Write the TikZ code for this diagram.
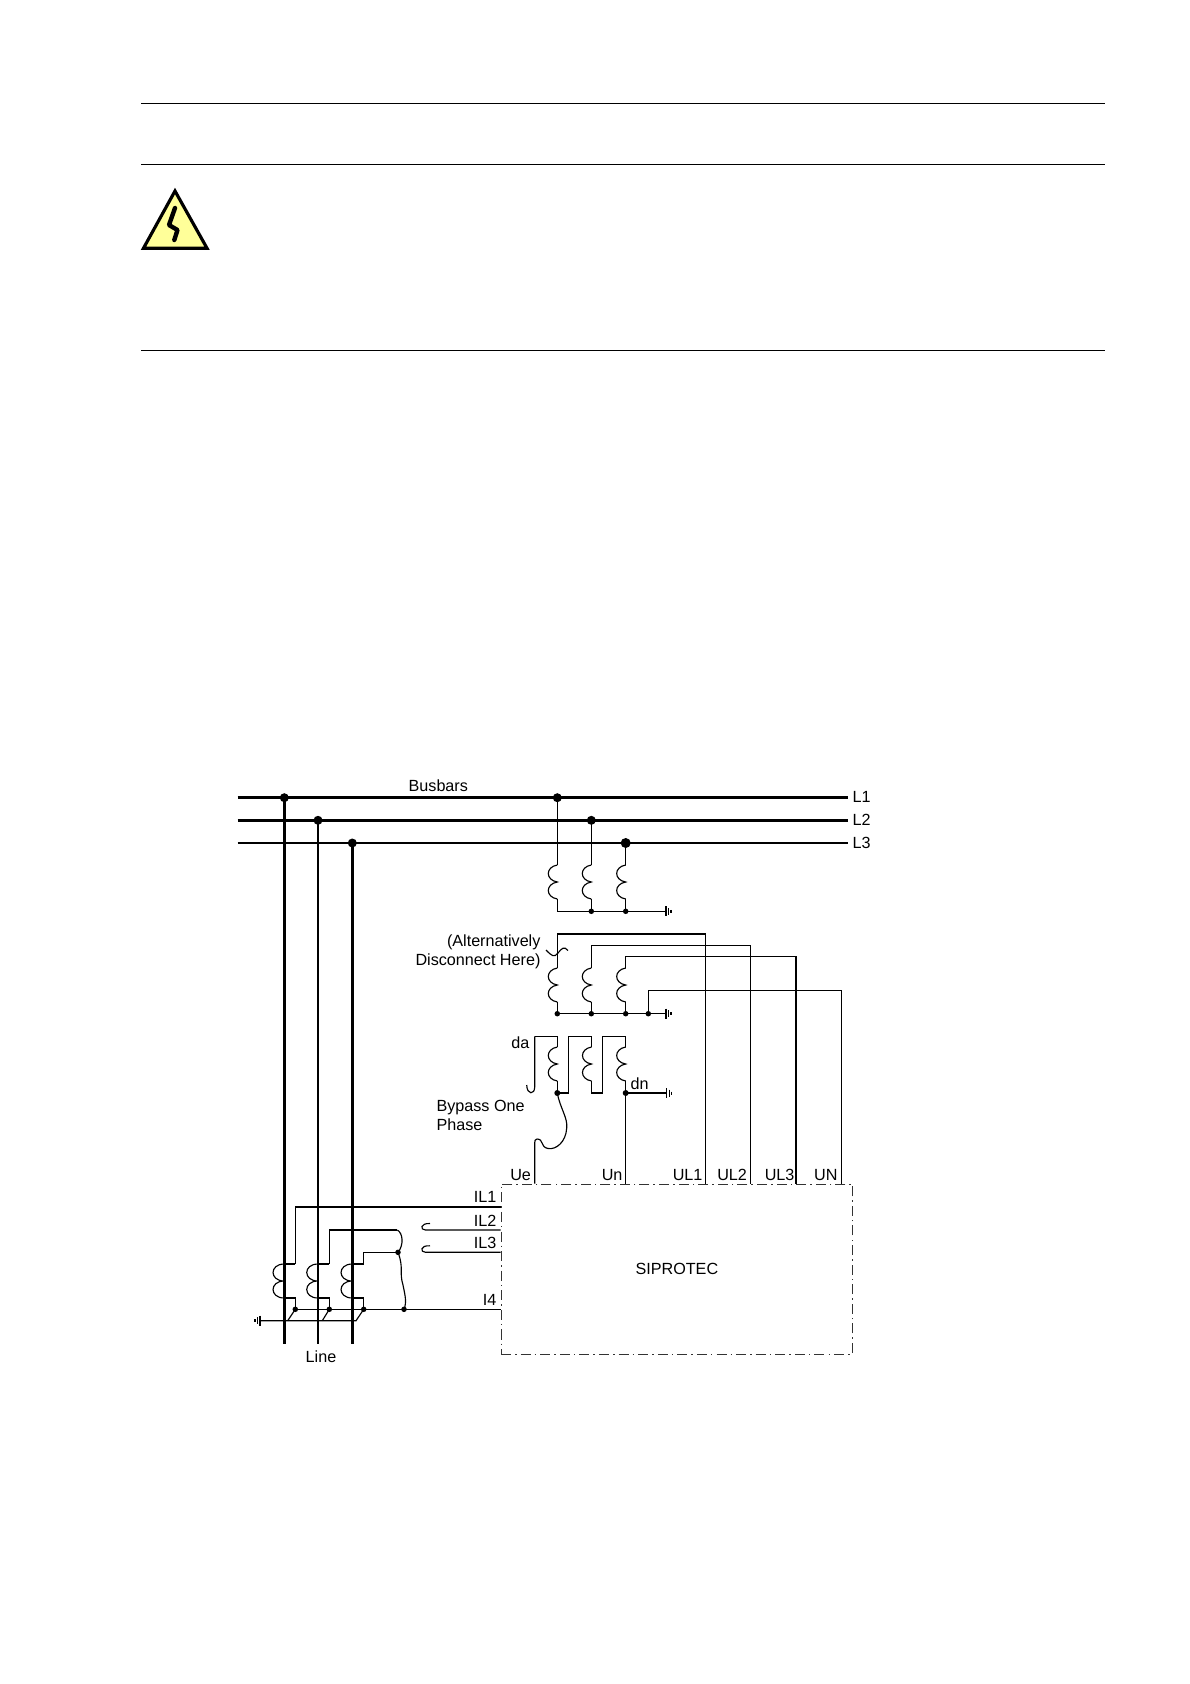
\documentclass[tikz,border=0pt]{standalone}
\usepackage{fontspec}
\setsansfont{Liberation Sans}
\usetikzlibrary{calc, positioning}

\definecolor{warnyellow}{HTML}{FFFF99}

\begin{document}
\begin{tikzpicture}[
    x=0.02cm, y=-0.02cm,
    font=\sffamily\fontsize{9.2}{10.8}\selectfont,
    line width=0.65pt
]
    % Styles for wires and dots
    \tikzstyle{bar} = [line width=1.6pt]
    \tikzstyle{rule} = [line width=0.7pt]
    \tikzstyle{bigdot} = [circle, fill=black, inner sep=0pt, minimum size=0.18cm]
    \tikzstyle{smalldot} = [circle, fill=black, inner sep=0pt, minimum size=0.11cm]
    \tikzstyle{label} = [inner sep=0pt]

    % Coil: two bows to the left of the wire, and the earth mark
    \tikzset{
        coil/.pic={
            \draw (0,0) .. controls (-12,2) and (-12,15) .. (0,17)
                        .. controls (-12,19) and (-12,32) .. (0,34);
        },
        bigcoil/.pic={
            \draw (0,0) .. controls (-15,0) and (-15,17) .. (0,17)
                        .. controls (-15,17) and (-15,34) .. (0,34);
        },
        earth/.pic={
            \draw (0,-5) -- (0,5);
            \draw (2.5,-3.5) -- (2.5,3.5);
            \draw (5,-1.5) -- (5,1.5);
        }
    }

    \useasboundingbox (0,0) rectangle (1190,1684);

    % Page rules and warning sign
    \coordinate (RuleA) at (141,103.3);
    \coordinate (RuleB) at (141,164.3);
    \coordinate (RuleC) at (141,350.3);
    \foreach \r in {RuleA,RuleB,RuleC}
        \draw [rule] (\r) -- ++(964,0);
    \draw [line width=1.8pt, fill=warnyellow, line join=miter]
        (175,191) -- (207,248.2) -- (143.5,248.2) -- cycle;
    \draw [line width=2.5pt, line join=round, line cap=round]
        (175,208) -- (169,225) -- (177.5,230) -- (174.3,240);

    % Busbars
    \coordinate (L1w) at (237.5,797.7);
    \coordinate (L2w) at (237.5,820.3);
    \coordinate (L3w) at (237.5,843);
    \node [label, anchor=west] (L1) at (852,797) {L1};
    \node [label, anchor=west] (L2) at (852,820) {L2};
    \node [label, anchor=west] (L3) at (852,842.5) {L3};
    \draw [bar] (L1w) -- ++(610.5,0);
    \draw [bar] (L2w) -- ++(610.5,0);
    \draw [bar] (L3w) -- ++(610.5,0);
    \node [label] (Busbars) at (438.3,785.7) {Busbars};

    % Line conductors
    \node [bigdot] (LineA) at (284.3,797.7) {};
    \node [bigdot] (LineB) at (318,820.3) {};
    \node [bigdot] (LineC) at (352.3,843) {};
    \draw [bar] (LineA.center) -- (284.3,1344);
    \draw [bar] (LineB.center) -- (318,1344);
    \draw [bar] (LineC.center) -- (352.3,1344);
    \node [label] (Line) at (321,1356.7) {Line};

    % Relay box
    \node [draw, black!80, text=black, line width=0.55pt, minimum width=7.034cm, minimum height=3.4cm, inner sep=0pt,
           dash pattern=on 5.7pt off 2.3pt on 0.85pt off 2.3pt] (Relay) at (676.85,1269) {SIPROTEC};

    % 1. Primary windings
    \node [bigdot] (TapA) at (557.3,797.7) {};
    \node [bigdot] (TapB) at (591.3,820.3) {};
    \node [bigdot, minimum size=0.2cm] (TapC) at (625.7,843) {};
    \foreach \t/\cx in {TapA/557.3,TapB/591.3,TapC/625.7} {
        \draw (\t.center) -- (\cx,865);
        \pic at (\cx,865) {coil};
        \draw (\cx,899) -- (\cx,911.3);
    }
    \node [smalldot] (StarB) at (591.3,911.3) {};
    \node [smalldot] (StarC) at (625.7,911.3) {};
    \coordinate (EarthA) at (666,911.3);
    \draw (557.3,911.3) -- (EarthA);
    \pic at (EarthA) {earth};

    % 2. Star winding to the U inputs
    \foreach \cx in {557.3,591.3,625.7} {
        \pic at (\cx,968) {coil};
        \draw (\cx,1002) -- (\cx,1013.7);
    }
    \node [smalldot] (StarD) at (557.3,1013.7) {};
    \node [smalldot] (StarE) at (591.3,1013.7) {};
    \node [smalldot] (StarF) at (625.7,1013.7) {};
    \node [smalldot] (StarG) at (648.3,1013.7) {};
    \coordinate (EarthB) at (666,1013.7);
    \draw (StarD.center) -- (EarthB);
    \pic at (EarthB) {earth};
    \coordinate (DropA) at (705.3,934);
    \coordinate (DropB) at (750.3,945.3);
    \coordinate (DropC) at (796,956.7);
    \coordinate (DropN) at (841.7,990.7);
    \draw (557.3,968) |- (DropA) -- (DropA |- Relay.north);
    \draw (591.3,968) |- (DropB) -- (DropB |- Relay.north);
    \draw (625.7,968) |- (DropC) -- (DropC |- Relay.north);
    \draw (StarG.center) |- (DropN) -- (DropN |- Relay.north);
    % break mark
    \draw (546,950) .. controls (552,956) and (554,958) .. (558,953)
        .. controls (562,948) and (564,946) .. (568,950.5);
    \node [label, anchor=east, align=right] (Disconnect) at (541,951.5) {(Alternatively\\Disconnect Here)};

    % 3. Open delta
    \foreach \cx in {557.3,591.5,625.7}
        \pic at (\cx,1047) {coil};
    \node [smalldot, minimum size=0.12cm] (DeltaA) at (557.3,1093) {};
    \node [smalldot, minimum size=0.12cm] (DeltaN) at (625.7,1093) {};
    \draw (534.7,1036.3) -- (557.3,1036.3) -- (557.3,1047);
    \draw (557.3,1081) -- (DeltaA.center) -- (568.3,1093) -- (568.3,1036.3) -- (591.5,1036.3) -- (591.5,1047);
    \draw (591.5,1081) -- (591.5,1093) -- (602.7,1093) -- (602.7,1036.3) -- (625.7,1036.3) -- (625.7,1047);
    \draw (625.7,1081) -- (DeltaN.center);
    \draw (534.7,1036.3) -- (534.7,1087) .. controls (534.7,1095) and (527,1095) .. (526.7,1085);
    \coordinate (EarthC) at (666.7,1093);
    \draw (DeltaN.center) -- (EarthC);
    \pic at (EarthC) {earth};
    \draw (DeltaN.center) -- (DeltaN.center |- Relay.north);
    % Bypass wire
    \coordinate (UeIn) at (534.7,1143);
    \draw (DeltaA.center) .. controls (560,1108) and (568,1118) .. (566.7,1128)
        .. controls (566,1142) and (556,1150) .. (548,1148.5)
        .. controls (540,1147) and (544,1139) .. (537,1139)
        .. controls (535,1139) and (534.7,1141) .. (UeIn)
        -- (UeIn |- Relay.north);
    \node [label, anchor=east] (Da) at (530,1042.3) {da};
    \node [label, anchor=west] (Dn) at (630,1084) {dn};
    \node [label, anchor=west, align=left] (Bypass) at (436,1115.5) {Bypass One\\Phase};

    % Input labels on the box
    \node [label, anchor=east] (Ue) at (531.5,1175) {Ue};
    \node [label, anchor=east] (Un) at (623,1175) {Un};
    \node [label, anchor=east] (UL1) at (703,1175) {UL1};
    \node [label, anchor=east] (UL2) at (747.5,1175) {UL2};
    \node [label, anchor=east] (UL3) at (795,1175) {UL3};
    \node [label, anchor=east] (UN) at (838,1175) {UN};
    \node [label, anchor=east] (IL1) at (497,1197.3) {IL1};
    \node [label, anchor=east] (IL2) at (497,1220.7) {IL2};
    \node [label, anchor=east] (IL3) at (497,1242.7) {IL3};
    \node [label, anchor=east] (I4) at (497,1300) {I4};

    % 4. Current transformers
    \foreach \lx/\wx in {284.3/295.3,318/329.3,352.3/363.7} {
        \pic at (\lx,1264) {bigcoil};
        \draw (\lx,1264) -- (\wx,1264);
        \draw (\lx,1298) -- (\wx,1298) -- (\wx,1309.3);
    }
    \node [smalldot] (StarH) at (295.3,1309.3) {};
    \node [smalldot] (StarI) at (329.3,1309.3) {};
    \node [smalldot] (StarJ) at (363.7,1309.3) {};
    \node [smalldot] (StarK) at (404,1309.3) {};
    \node [smalldot] (Join) at (398,1252.3) {};

    \coordinate (WireA) at (295.3,1207);
    \draw (StarH.center) -- (StarH.center -| Relay.west);
    \draw (295.3,1264) -- (WireA) -- (WireA -| Relay.west);
    \draw (329.3,1264) |- (397.3,1230);
    \draw (397.3,1230) .. controls (403,1233) and (404,1245) .. (Join.center);
    \draw (363.7,1264) -- (363.7,1252.3) -- (Join.center);
    \draw (Join.center) .. controls (404,1268) and (399,1272) .. (403,1285)
        .. controls (405,1295) and (407,1302) .. (StarK.center);

    % Shorted stubs
    \coordinate (StubB) at (425.5,1230);
    \coordinate (StubC) at (425.5,1252.3);
    \draw (430,1223.5) .. controls (420,1223) and (420,1230) .. (StubB) -- (StubB -| Relay.west);
    \draw (430,1245.8) .. controls (420,1245) and (420,1252.3) .. (StubC) -- (StubC -| Relay.west);

    % Earthing of the current transformers
    \coordinate (EarthD) at (260,1320.7);
    \draw (EarthD) -- (356,1320.7) -- (StarJ.center);
    \draw (287.7,1320.7) -- (StarH.center);
    \draw (322.3,1320.7) -- (StarI.center);
    \pic [xscale=-1] at (EarthD) {earth};

\end{tikzpicture}
\end{document}
